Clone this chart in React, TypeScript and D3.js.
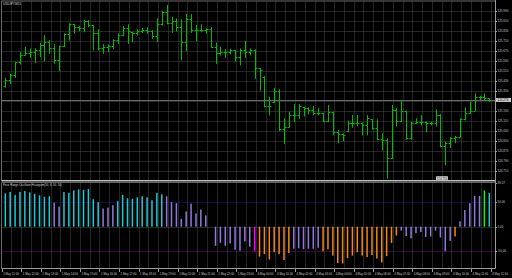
import React from "react";
import * as d3 from "d3";

const HIGH = [125.454,125.484,125.582,125.657,125.702,125.689,125.689,125.734,125.796,125.756,125.724,125.710,125.809,125.889,125.884,125.868,125.916,125.916,125.876,125.841,125.724,125.721,125.761,125.809,125.868,125.881,125.822,125.841,125.854,125.857,125.836,125.929,125.990,126.036,125.942,125.929,125.921,125.964,125.964,125.876,125.881,125.849,125.857,125.734,125.702,125.681,125.686,125.676,125.689,125.748,125.689,125.681,125.529,125.468,125.302,125.374,125.361,125.129,125.182,125.243,125.243,125.222,125.217,125.228,125.209,125.174,125.236,125.182,125.036,125.009,125.110,125.156,125.156,125.094,125.156,125.121,125.121,125.009,124.969,125.236,125.209,125.276,125.190,125.102,125.129,125.156,125.102,125.102,125.201,125.164,124.942,124.977,124.988,125.129,125.217,125.262,125.329,125.308,125.329,125.289];
const LOW = [125.377,125.409,125.457,125.564,125.636,125.617,125.574,125.622,125.588,125.649,125.569,125.510,125.702,125.756,125.809,125.830,125.822,125.862,125.676,125.676,125.649,125.662,125.689,125.729,125.788,125.729,125.742,125.796,125.814,125.809,125.769,125.742,125.876,125.884,125.817,125.828,125.596,125.670,125.817,125.750,125.822,125.809,125.697,125.569,125.636,125.617,125.644,125.588,125.556,125.617,125.636,125.449,125.356,125.222,125.156,125.254,125.030,124.929,125.062,125.102,125.129,125.147,125.164,125.156,125.156,125.102,125.102,124.996,124.934,124.950,125.022,125.057,125.068,124.996,124.996,125.041,124.956,124.876,124.649,124.809,125.068,125.102,124.961,124.961,125.089,125.076,125.022,125.076,125.068,124.902,124.756,124.897,124.934,124.982,125.116,125.169,125.190,125.276,125.276,125.262];
const OPEN = [125.388,125.436,125.476,125.580,125.636,125.652,125.660,125.676,125.716,125.740,125.692,125.596,125.708,125.804,125.884,125.860,125.852,125.908,125.876,125.812,125.692,125.700,125.708,125.756,125.796,125.852,125.820,125.812,125.828,125.836,125.828,125.788,125.884,125.980,125.892,125.908,125.860,125.742,125.924,125.836,125.836,125.836,125.844,125.700,125.652,125.662,125.662,125.676,125.620,125.676,125.660,125.676,125.529,125.460,125.228,125.260,125.348,125.044,125.062,125.156,125.156,125.222,125.209,125.196,125.174,125.169,125.110,125.182,125.022,125.004,125.025,125.094,125.094,125.089,125.076,125.121,125.052,124.961,124.956,124.809,125.196,125.110,125.190,124.969,125.089,125.102,125.102,125.094,125.089,125.156,124.908,124.934,124.969,124.982,125.121,125.169,125.190,125.302,125.302,125.289];
const CLOSE = [125.436,125.476,125.580,125.636,125.652,125.660,125.676,125.716,125.740,125.692,125.596,125.708,125.804,125.884,125.860,125.852,125.908,125.876,125.812,125.692,125.700,125.708,125.756,125.796,125.852,125.828,125.812,125.828,125.836,125.828,125.788,125.884,125.980,125.892,125.908,125.860,125.742,125.924,125.836,125.836,125.836,125.844,125.700,125.652,125.662,125.662,125.676,125.620,125.676,125.660,125.676,125.529,125.516,125.228,125.228,125.348,125.044,125.057,125.156,125.156,125.228,125.209,125.196,125.174,125.169,125.110,125.182,125.022,125.004,124.996,125.094,125.094,125.089,125.076,125.129,125.052,124.961,124.956,124.809,125.196,125.110,125.190,124.969,125.089,125.102,125.102,125.094,125.089,125.156,124.908,124.934,124.969,124.977,125.121,125.169,125.190,125.302,125.302,125.289,125.276];

const OSC = [68,71,65,71,73,70,67,64,61,62,49,41,71,69,74,76,75,77,56,50,37,39,44,52,65,58,57,60,62,60,54,69,66,62,50,48,16,31,47,27,35,23,0,-39,-33,-39,-34,-47,-49,-30,-41,-50,-61,-56,-67,-52,-56,-68,-54,-45,-44,-46,-45,-45,-43,-50,-46,-59,-74,-75,-64,-59,-52,-59,-62,-58,-65,-73,-60,-33,-18,-8,-19,-24,-13,-11,-21,-20,-8,-22,-50,-29,-20,11,34,48,63,63,74,69];
const OSC_KIND = "ccccccccccppccccccccpppccccccccccppppppppppppppppppmoooooooppppppoooooooooooooooopppppppppppoppppplccc";

const PRICE_TICKS = [125.99,125.91,125.83,125.75,125.67,125.59,125.51,125.43,125.35,125.19,125.11,125.03,124.95,124.87,124.79,124.71];
const GRID_PRICES = [125.99,125.91,125.83,125.75,125.67,125.59,125.51,125.43,125.35,125.27,125.19,125.11,125.03,124.95,124.87,124.79,124.71];
const BID = 125.276;
const OSC_TICKS = [
  { v: 89, t: "89.27" },
  { v: 50, t: "50.00" },
  { v: 0, t: "0.00" },
  { v: -50, t: "-50.00" },
];
const TIME_LABELS = ["1 May 11:00","1 May 12:00","1 May 13:00","1 May 14:00","1 May 15:00","1 May 16:00","1 May 17:00","1 May 18:00","1 May 19:00","1 May 20:00","1 May 21:00","1 May 22:00","1 May 23:00","4 May 00:00","4 May 01:00","4 May 02:00","4 May 03:00","4 May 04:00","4 May 05:00","4 May 06:00","4 May 07:00","4 May 08:00","4 May 09:00","4 May 10:00","4 May 11:00","4 May 12:00"];
const TITLE = "USDJPY,M15";
const IND_TITLE = "Price Range Oscillator Histogram(50, 8, 50, 50)";
const LOW_TAG = "124.756";

const KIND_COLOR: Record<string, string> = {
  c: "#1fc9d3",
  p: "#9378dc",
  o: "#f08a0c",
  m: "#ff00ff",
  l: "#00ff00",
};

export default function App() {
  const W = 512, H = 278;
  const left = 1.5, right = 495.5;
  const mainTop = 1.5, mainBot = 180.5;
  const indTop = 182.5, indBot = 268.5;
  const x = d3.scaleLinear().domain([0, 99]).range([5.3, 489.3]);
  const y = d3.scaleLinear().domain([124.71, 125.99]).range([170.7, 10.7]);
  const yo = d3.scaleLinear().domain([-50, 50]).range([251.2, 202.2]);
  const font = "'Liberation Sans', Arial, sans-serif";
  const gridColor = "#4a4a4a";
  const barGreen = "#00bb00";
  const gridXs = d3.range(0, 52).map((k) => x(2 * k) - 3.6).filter((v) => v > left + 1 && v < right);
  const px = (v: number) => Math.round(v) + 0.5;

  return (
    <svg width={W} height={H} style={{ position: "fixed", left: 0, top: 0, background: "#000" }} xmlns="http://www.w3.org/2000/svg">
      <rect x={0} y={0} width={W} height={H} fill="#000" />
      {/* grid */}
      <g stroke={gridColor} strokeWidth={1} strokeDasharray="1,1">
        {gridXs.map((gx, i) => (
          <line key={"gv" + i} x1={px(gx)} x2={px(gx)} y1={mainTop} y2={mainBot} />
        ))}
        {gridXs.map((gx, i) => (
          <line key={"gvi" + i} x1={px(gx)} x2={px(gx)} y1={indTop} y2={indBot} />
        ))}
        {GRID_PRICES.map((p, i) => (
          <line key={"gh" + i} x1={left} x2={right} y1={px(y(p))} y2={px(y(p))} />
        ))}
        <line x1={left} x2={right} y1={px(yo(0))} y2={px(yo(0))} />
      </g>
      {/* bid line */}
      <line x1={left} x2={right} y1={px(y(BID))} y2={px(y(BID))} stroke="#6a6a6a" strokeWidth={1} />
      {/* OHLC bars */}
      <g stroke={barGreen} strokeWidth={1}>
        {HIGH.map((h, i) => {
          const cx = px(x(i));
          return (
            <g key={"b" + i}>
              <line x1={cx} x2={cx} y1={y(h)} y2={y(LOW[i]) + 0.5} />
              <line x1={cx - 2} x2={cx} y1={px(y(OPEN[i]))} y2={px(y(OPEN[i]))} />
              <line x1={cx} x2={cx + 2} y1={px(y(CLOSE[i]))} y2={px(y(CLOSE[i]))} />
            </g>
          );
        })}
      </g>
      {/* low tag */}
      <rect x={436} y={176.3} width={12} height={4} fill="#d6d6d6" rx={0.5} />
      <text x={442} y={179.6} fontSize={3} fontFamily={font} fill="#222" textAnchor="middle">{LOW_TAG}</text>
      {/* frames */}
      <rect x={left} y={mainTop - 0.5} width={right - left} height={mainBot - mainTop + 0.5} fill="none" stroke="#6a6a6a" strokeWidth={1} />
      <line x1={left} x2={right} y1={mainBot} y2={mainBot} stroke="#bdbdbd" strokeWidth={1} />
      <line x1={left} x2={right} y1={indTop - 0.5} y2={indTop - 0.5} stroke="#bdbdbd" strokeWidth={1} />
      <line x1={left} x2={left} y1={indTop} y2={indBot} stroke="#6a6a6a" />
      <line x1={left} x2={right} y1={indBot} y2={indBot} stroke="#9a9a9a" />
      <line x1={right} x2={right} y1={0} y2={indBot} stroke="#9a9a9a" />
      {/* osc levels */}
      <line x1={left} x2={right} y1={px(yo(50))} y2={px(yo(50))} stroke="#1a1a9c" strokeDasharray="1,1" />
      <line x1={left} x2={right} y1={px(yo(-50))} y2={px(yo(-50))} stroke="#6a1080" strokeDasharray="1,1" />
      {/* histogram */}
      <g>
        {OSC.map((v, i) => {
          const y0 = yo(0), y1 = yo(v);
          return (
            <rect key={"h" + i} x={x(i) - 0.75} width={1.5} y={Math.min(y0, y1)} height={Math.abs(y1 - y0)} fill={KIND_COLOR[OSC_KIND[i]]} />
          );
        })}
      </g>
      {/* titles */}
      <text x={3} y={5.2} fontSize={3} fontFamily={font} fill="#d8d8d8">{TITLE}</text>
      <text x={3} y={186.4} fontSize={2.8} fontFamily={font} fill="#d8d8d8">{IND_TITLE}</text>
      {/* price axis */}
      <g fontFamily={font} fontSize={3} fill="#c8c8c8">
        {PRICE_TICKS.map((p, i) => (
          <g key={"pt" + i}>
            <line x1={right} x2={right + 1.5} y1={px(y(p))} y2={px(y(p))} stroke="#9a9a9a" />
            <text x={497.5} y={y(p) + 1.1}>{p.toFixed(3)}</text>
          </g>
        ))}
      </g>
      <rect x={496} y={y(BID) - 2} width={15} height={4} fill="#c8c8c8" />
      <text x={497.5} y={y(BID) + 1.1} fontFamily={font} fontSize={3} fill="#111">{BID.toFixed(3)}</text>
      {/* osc axis */}
      <g fontFamily={font} fontSize={3} fill="#c8c8c8">
        {OSC_TICKS.map((o, i) => (
          <g key={"ot" + i}>
            <line x1={right} x2={right + 1.5} y1={px(yo(o.v))} y2={px(yo(o.v))} stroke="#9a9a9a" />
            <text x={497.5} y={yo(o.v) + 1.1}>{o.t}</text>
          </g>
        ))}
      </g>
      {/* time axis */}
      <g fontFamily={font} fontSize={2.9} fill="#c8c8c8">
        {TIME_LABELS.map((t, k) => {
          const tx = x(4 * k) - 3.6;
          return (
            <g key={"tl" + k}>
              <line x1={px(tx)} x2={px(tx)} y1={indBot} y2={indBot + 3.5} stroke="#9a9a9a" />
              <text x={tx + 1.5} y={274.5}>{t}</text>
            </g>
          );
        })}
      </g>
    </svg>
  );
}
